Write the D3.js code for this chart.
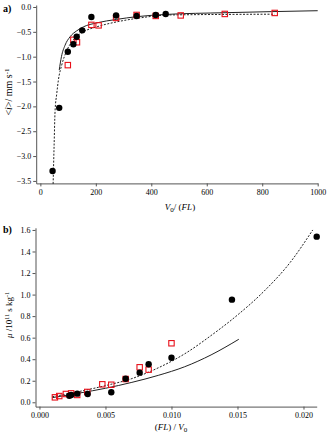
<!DOCTYPE html>
<html>
<head>
<meta charset="utf-8">
<script src="https://cdn.jsdelivr.net/npm/d3@7"></script>
<style>
  body { margin: 0; background: #fff; }
  svg { display: block; font-family: "Liberation Serif", "DejaVu Serif", serif; }
</style>
</head>
<body>
<div id="chart-area"></div>
<script>
// panel a: <i> vs V0/(FL)
const aBlackV = [44, 68, 99, 119, 131, 151, 184, 273, 347, 416, 452];
const aBlackI = [-3.30, -2.03, -0.90, -0.75, -0.60, -0.47, -0.20, -0.17, -0.18, -0.16, -0.14];
const aRedV = [99, 119, 132, 184, 210, 273, 347, 416, 506, 665, 845];
const aRedI = [-1.17, -0.66, -0.71, -0.36, -0.37, -0.22, -0.16, -0.18, -0.17, -0.14, -0.12];
const aSolidV = [68, 76, 89, 107, 131, 155, 203, 275, 347, 452, 666, 1000];
const aSolidI = [-1.27, -1.0, -0.77, -0.60, -0.48, -0.40, -0.32, -0.25, -0.195, -0.15, -0.115, -0.075];
const aDashV = [46, 49.5, 53, 59, 65, 77, 95, 119, 155, 203, 275, 347, 470, 845];
const aDashI = [-3.56, -2.8, -2.1, -1.75, -1.47, -1.17, -0.88, -0.66, -0.50, -0.40, -0.30, -0.23, -0.16, -0.145];
const aXTicks = [0, 200, 400, 600, 800, 1000];
const aYTicks = [0, -0.5, -1.0, -1.5, -2.0, -2.5, -3.0, -3.5];

// panel b: mu vs (FL)/V0
const bBlackU = [0.00226, 0.0024, 0.00286, 0.00365, 0.00544, 0.00653, 0.00759, 0.00827, 0.0100, 0.01458, 0.0210];
const bBlackM = [0.061, 0.068, 0.080, 0.077, 0.093, 0.219, 0.275, 0.353, 0.414, 0.953, 1.538];
const bRedU = [0.00117, 0.0015, 0.0020, 0.0024, 0.00286, 0.00362, 0.00476, 0.00544, 0.00653, 0.00759, 0.00827, 0.0100];
const bRedM = [0.046, 0.058, 0.077, 0.083, 0.068, 0.096, 0.167, 0.163, 0.216, 0.325, 0.303, 0.548];
const bSolidU = [0.00097, 0.003, 0.005, 0.007, 0.009, 0.011, 0.013, 0.0151];
const bSolidM = [0.043, 0.085, 0.13, 0.185, 0.25, 0.33, 0.44, 0.585];
const bDashU = [0.00097, 0.003, 0.005, 0.007, 0.009, 0.011, 0.013, 0.015, 0.017, 0.019, 0.0207];
const bDashM = [0.052, 0.10, 0.155, 0.22, 0.32, 0.45, 0.62, 0.81, 1.03, 1.30, 1.60];
const bXTicks = [0, 0.005, 0.010, 0.015, 0.020];
const bYTicks = [0, 0.2, 0.4, 0.6, 0.8, 1.0, 1.2, 1.4, 1.6];

const svg = d3.select("#chart-area")
  .append("svg")
  .attr("width", 327)
  .attr("height", 440);

function zip(xs, ys) {
  return xs.map((x, i) => ({ x: x, y: ys[i] }));
}

function styleAxis(g) {
  g.attr("font-family", "Liberation Serif, serif").attr("font-size", 8);
  g.selectAll("path, line").attr("stroke", "#555");
  g.selectAll("text").attr("fill", "#000");
}

function panel(opt) {
  const x = d3.scaleLinear().domain(opt.xDomain).range(opt.xRange);
  const y = d3.scaleLinear().domain(opt.yDomain).range(opt.yRange);

  // axes
  svg.append("g")
    .attr("transform", "translate(0, " + opt.yRange[0] + ")")
    .call(d3.axisBottom(x).tickValues(opt.xTicks).tickSize(3).tickSizeOuter(0)
      .tickPadding(3).tickFormat(opt.xFormat))
    .call(styleAxis);

  svg.append("g")
    .attr("transform", "translate(" + opt.xRange[0] + ", 0)")
    .call(d3.axisLeft(y).tickValues(opt.yTicks).tickSize(3).tickSizeOuter(0)
      .tickPadding(2).tickFormat(opt.yFormat))
    .call(styleAxis);

  const line = d3.line()
    .x((d) => x(d.x))
    .y((d) => y(d.y))
    .curve(d3.curveMonotoneX);

  svg.append("path")
    .datum(opt.solid)
    .attr("d", line)
    .attr("fill", "none")
    .attr("stroke", "#222")
    .attr("stroke-width", 1);

  svg.append("path")
    .datum(opt.dash)
    .attr("d", line)
    .attr("fill", "none")
    .attr("stroke", "#222")
    .attr("stroke-width", 1)
    .attr("stroke-dasharray", "2,1.5");

  // red open squares
  svg.selectAll(null)
    .data(opt.red)
    .enter()
    .append("rect")
    .attr("x", (d) => x(d.x) - 2.7)
    .attr("y", (d) => y(d.y) - 2.7)
    .attr("width", 5.4)
    .attr("height", 5.4)
    .attr("fill", "none")
    .attr("stroke", "#e8101a")
    .attr("stroke-width", 1.1);

  // black filled circles
  svg.selectAll(null)
    .data(opt.black)
    .enter()
    .append("circle")
    .attr("cx", (d) => x(d.x))
    .attr("cy", (d) => y(d.y))
    .attr("r", 3.2)
    .attr("fill", "#000");
}

panel({
  xDomain: [-15, 1000], xRange: [36.2, 317.7],
  yDomain: [-3.55, 0.04], yRange: [183.4, 5],
  xTicks: aXTicks, yTicks: aYTicks,
  xFormat: d3.format("d"), yFormat: d3.format(".1f"),
  black: zip(aBlackV, aBlackI), red: zip(aRedV, aRedI),
  solid: zip(aSolidV, aSolidI), dash: zip(aDashV, aDashI),
});

panel({
  xDomain: [-0.0003, 0.021], xRange: [35.5, 316.7],
  yDomain: [-0.04, 1.62], yRange: [406.6, 227.8],
  xTicks: bXTicks, yTicks: bYTicks,
  xFormat: d3.format(".3f"), yFormat: d3.format(".1f"),
  black: zip(bBlackU, bBlackM), red: zip(bRedU, bRedM),
  solid: zip(bSolidU, bSolidM), dash: zip(bDashU, bDashM),
});

// panel letters
svg.append("text")
  .attr("x", 3).attr("y", 12)
  .attr("font-size", "10px").attr("font-weight", "bold")
  .text("a)");
svg.append("text")
  .attr("x", 3).attr("y", 233)
  .attr("font-size", "10px").attr("font-weight", "bold")
  .text("b)");

// X labels
const xa = svg.append("text")
  .attr("x", 180).attr("y", 210)
  .attr("font-size", "9px")
  .attr("text-anchor", "middle");
xa.append("tspan").attr("font-style", "italic").text("V");
xa.append("tspan").attr("font-size", "7px").attr("dy", 2).text("0");
xa.append("tspan").attr("dy", -2).text("/ (");
xa.append("tspan").attr("font-style", "italic").text("FL");
xa.append("tspan").text(")");

const xb = svg.append("text")
  .attr("x", 171).attr("y", 430)
  .attr("font-size", "9px")
  .attr("text-anchor", "middle");
xb.append("tspan").text("(");
xb.append("tspan").attr("font-style", "italic").text("FL");
xb.append("tspan").text(") / ");
xb.append("tspan").attr("font-style", "italic").text("V");
xb.append("tspan").attr("font-size", "7px").attr("dy", 2).text("0");

// Y labels
const ya = svg.append("text")
  .attr("x", -92).attr("y", 12)
  .attr("font-size", "10px")
  .attr("text-anchor", "middle")
  .attr("transform", "rotate(-90)");
ya.append("tspan").text("<");
ya.append("tspan").attr("font-style", "italic").text("i");
ya.append("tspan").text(">/ mm s");
ya.append("tspan").attr("font-size", "7px").attr("dy", -3).text("-1");

const yb = svg.append("text")
  .attr("x", -315).attr("y", 12)
  .attr("font-size", "9px")
  .attr("text-anchor", "middle")
  .attr("transform", "rotate(-90)");
yb.append("tspan").attr("font-style", "italic").text("\u03bc");
yb.append("tspan").text(" /10");
yb.append("tspan").attr("font-size", "6px").attr("dy", -3).text("11");
yb.append("tspan").attr("dy", 3).text(" s kg");
yb.append("tspan").attr("font-size", "6px").attr("dy", -3).text("-1");
</script>
</body>
</html>
